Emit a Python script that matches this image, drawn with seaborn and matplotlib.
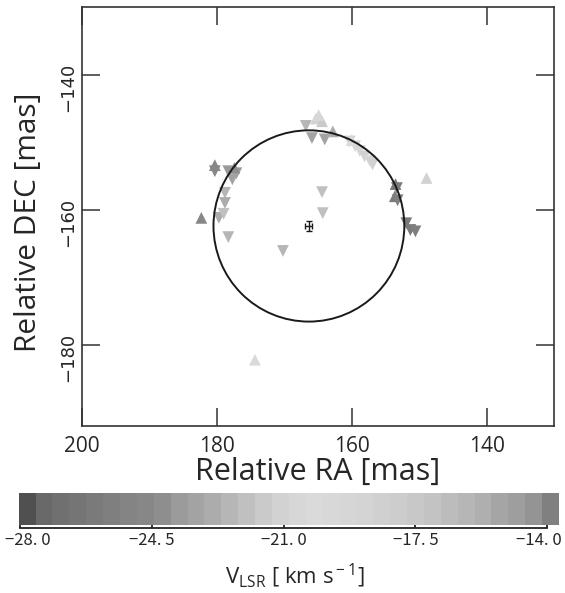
import numpy as np
import pandas as pd
import matplotlib
matplotlib.use("Agg")
import matplotlib.pyplot as plt
import matplotlib.transforms as mtransforms
from matplotlib.colors import ListedColormap, Normalize
from matplotlib.patches import Circle
import seaborn as sns

# ---------------- data ----------------
ra = [165.3, 164.4, 164.9, 166.8, 165.9, 164.0, 162.8,
      160.3, 159.5, 158.8, 158.1, 157.3, 156.9, 160.0,
      180.3, 180.3, 178.3, 177.1, 177.4, 177.7,
      178.8, 178.8, 179.7, 179.0, 164.4, 164.3,
      153.5, 153.3, 153.6, 153.2, 151.9, 151.3, 150.55,
      148.9, 178.3, 170.2, 174.35, 182.3]
dec = [-146.5, -146.9, -146.0, -147.6, -149.4, -149.6, -148.4,
       -149.9, -150.6, -151.3, -152.1, -152.8, -153.3, -149.7,
       -153.4, -154.3, -154.3, -154.6, -153.8, -155.5,
       -157.5, -159.0, -161.2, -160.6, -157.4, -160.5,
       -156.2, -156.8, -158.0, -158.6, -162.0, -163.0, -163.2,
       -155.3, -164.05, -166.1, -182.2, -161.2]
vel = [-21.0, -21.6, -20.5, -22.5, -23.5, -23.5, -22.8,
       -21.0, -20.5, -20.8, -21.2, -20.5, -21.0, -20.0,
       -24.5, -24.5, -23.8, -23.6, -24.0, -23.4,
       -22.5, -22.7, -22.8, -22.0, -22.2, -22.2,
       -26.0, -25.8, -26.2, -25.6, -26.0, -25.8, -25.7,
       -21.0, -22.3, -22.6, -20.0, -24.7]
kind = ["up", "up", "up", "down", "down", "down", "up",
        "down", "down", "down", "down", "down", "down", "up",
        "up", "down", "down", "down", "up", "down",
        "down", "down", "down", "down", "down", "down",
        "up", "down", "up", "down", "down", "down", "down",
        "up", "down", "down", "up", "up"]

center_ra, center_dec = 166.35, -162.4
center_err_ra, center_err_dec = 0.52, 0.74
ring_radius = 14.15

gray_levels = [80, 105, 112, 117, 122, 127, 132, 135, 142, 155, 163, 172,
               182, 192, 202, 210, 215, 218, 216, 214, 212, 208, 205, 200,
               195, 188, 182, 175, 165, 158, 148, 128]
vmin, vmax = -28.03, -13.69
cbar_ticks = [-28.0, -24.5, -21.0, -17.5, -14.0]
cbar_ticklabels = ["\u221228. 0", "\u221224. 5", "\u221221. 0", "\u221217. 5", "\u221214. 0"]

x_ticks = [200, 180, 160, 140]
y_ticks = [-140, -160, -180]

# ---------------- style ----------------
sns.set_style("ticks")
plt.rcParams["font.family"] = ["Open Sans", "DejaVu Sans"]
plt.rcParams["mathtext.fontset"] = "custom"
plt.rcParams["mathtext.rm"] = "Open Sans"
plt.rcParams["mathtext.it"] = "Open Sans"

cmap = ListedColormap([(g / 255, g / 255, g / 255) for g in gray_levels])
norm = Normalize(vmin, vmax)

df = pd.DataFrame({"ra": ra, "dec": dec, "vel": vel, "kind": kind})

fig = plt.figure(figsize=(5.65, 5.93), dpi=100)
W, H = 565, 593
ax = fig.add_axes([82 / W, 1 - 426 / H, (554 - 82) / W, (426 - 7) / H])

sns.scatterplot(data=df, x="ra", y="dec", hue="vel", style="kind",
                markers={"up": "^", "down": "v"}, palette=cmap, hue_norm=norm,
                s=72, linewidth=0, edgecolor="none", legend=False, ax=ax, zorder=2)

ax.add_patch(Circle((center_ra, center_dec), ring_radius, fill=False,
                    edgecolor="#1a1a1a", linewidth=1.4, zorder=3))
ax.errorbar([center_ra], [center_dec], xerr=[center_err_ra], yerr=[center_err_dec],
            fmt="none", ecolor="#1a1a1a", elinewidth=1.0, capsize=2.0, capthick=1.0, zorder=4)

ax.set_xlim(200, 130)
ax.set_ylim(-192, -130)
ax.set_xticks(x_ticks)
ax.set_yticks(y_ticks)
ax.tick_params(direction="in", length=13, width=1.1, color="#333333",
               top=True, right=True)
ax.tick_params(axis="x", labelsize=15, pad=7.5)
ax.tick_params(axis="y", labelsize=13, pad=3.5, labelrotation=90)
ylab_shift = mtransforms.ScaledTranslation(0, -0.13, fig.dpi_scale_trans)
for lab in ax.get_yticklabels():
    lab.set_va("center")
    lab.set_family(["DejaVu Sans"])
    lab.set_transform(lab.get_transform() + ylab_shift)
for sp in ax.spines.values():
    sp.set_linewidth(1.2)
    sp.set_color("#333333")
ax.set_xlabel("Relative RA [mas]", fontsize=22)
ax.set_ylabel("Relative DEC [mas]", fontsize=21.5)
ax.xaxis.set_label_coords(0.5, -0.074)
ax.yaxis.set_label_coords(-0.083, 0.487)

# ---------------- colorbar ----------------
cax = fig.add_axes([18.7 / W, 1 - 528 / H, (559 - 18.7) / W, (528 - 493) / H])
edges = np.linspace(vmin, vmax, len(gray_levels) + 1)
centers = 0.5 * (edges[:-1] + edges[1:])
cax.pcolormesh(edges, [0, 1], centers[np.newaxis, :], cmap=cmap, norm=norm,
               shading="flat")
cax.set_xlim(vmin, vmax)
cax.set_ylim(-0.08, 1)
cax.set_yticks([])
for side in ["top", "left", "right"]:
    cax.spines[side].set_visible(False)
cax.spines["bottom"].set_bounds(cbar_ticks[0], cbar_ticks[-1])
cax.spines["bottom"].set_linewidth(1.3)
cax.spines["bottom"].set_color("#222222")
cax.set_xticks(cbar_ticks)
cax.set_xticklabels(cbar_ticklabels, family=["Noto Sans CJK JP", "DejaVu Sans"])
cax.tick_params(axis="x", direction="in", length=6, width=1.3, color="#222222",
                labelsize=12, pad=3)
cb_labels = cax.get_xticklabels()
cb_labels[0].set_transform(cb_labels[0].get_transform() +
                           mtransforms.ScaledTranslation(0.08, 0, fig.dpi_scale_trans))
cb_labels[-1].set_transform(cb_labels[-1].get_transform() +
                            mtransforms.ScaledTranslation(-0.08, 0, fig.dpi_scale_trans))

fig.text(295 / W, 1 - 576 / H, r"V$_{\rm LSR}$ [ km s$^{\rm -1}$]",
         ha="center", va="center", fontsize=16)

fig.savefig("out.png", dpi=100)
